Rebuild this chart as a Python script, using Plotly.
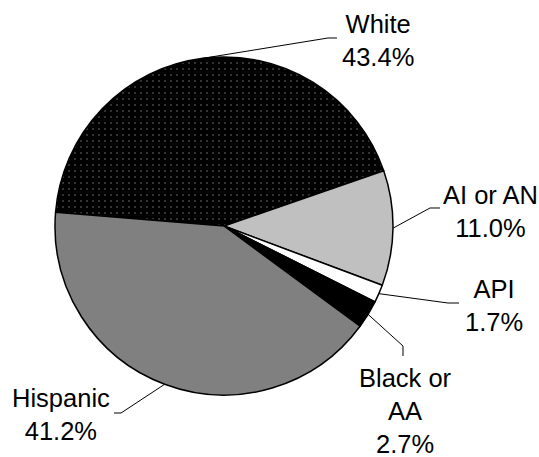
import math
import plotly.graph_objects as go

# ---- data ----
categories = ["White", "AI or AN", "API", "Black or AA", "Hispanic"]
values = [43.4, 11.0, 1.7, 2.7, 41.2]
label_texts = ["White<br>43.4%", "AI or AN<br>11.0%", "API<br>1.7%", "Black or<br>AA<br>2.7%", "Hispanic<br>41.2%"]

# ---- layout / style ----
W, H = 539, 457
CX, CY, R = 224, 226, 169
ROT = 274.7  # first slice start, degrees clockwise from 12 o'clock
slice_colors = ["#000000", "#c0c0c0", "#ffffff", "#000000", "#808080"]
pattern_shapes = [".", "", "", "", ""]

# label centre positions (px) and leader-line elbow points (px)
label_pos = [(378, 40), (490, 211), (494, 305), (405, 411), (61, 414)]
elbows = [[(328, 38), (337, 38)],
          [(430, 208), (440, 208)],
          [(448, 303), (459, 303)],
          [(403, 346), (403, 356)],
          [(121, 413), (114, 413)]]


def px(x):
    return x / W


def py(y):
    return 1 - y / H


fig = go.Figure(go.Pie(
    labels=categories,
    values=values,
    sort=False,
    direction="clockwise",
    rotation=ROT,
    textinfo="none",
    hoverinfo="label+percent",
    marker=dict(
        colors=slice_colors,
        line=dict(color="#000000", width=1.5),
        pattern=dict(shape=pattern_shapes, fgcolor="#ffffff", bgcolor="#000000",
                     size=6, solidity=0.05, fillmode="overlay"),
    ),
    domain=dict(x=[px(CX - R), px(CX + R)], y=[py(CY + R), py(CY - R)]),
    showlegend=False,
))

# leader lines from slice mid-angle on the rim
total = sum(values)
ang = ROT
shapes = []
for v, elb in zip(values, elbows):
    span = v / total * 360
    mid = math.radians(ang + span / 2)
    ang += span
    sx = CX + R * math.sin(mid)
    sy = CY - R * math.cos(mid)
    pts = [(sx, sy)] + elb
    path = "M " + " L ".join(f"{px(x):.5f},{py(y):.5f}" for x, y in pts)
    shapes.append(dict(type="path", path=path, xref="paper", yref="paper",
                       line=dict(color="#000000", width=1)))

annotations = []
for t, (x, y) in zip(label_texts, label_pos):
    annotations.append(dict(text=t, x=px(x), y=py(y), xref="paper", yref="paper",
                            xanchor="center", yanchor="middle", showarrow=False,
                            align="center",
                            font=dict(family="Liberation Sans, Arial", size=25.5, color="#000000")))

fig.update_layout(
    width=W, height=H,
    margin=dict(l=0, r=0, t=0, b=0),
    paper_bgcolor="#ffffff",
    plot_bgcolor="#ffffff",
    shapes=shapes,
    annotations=annotations,
)

fig.write_html("out.html", config={"displayModeBar": False},
               post_script="document.body.style.margin='0';")
